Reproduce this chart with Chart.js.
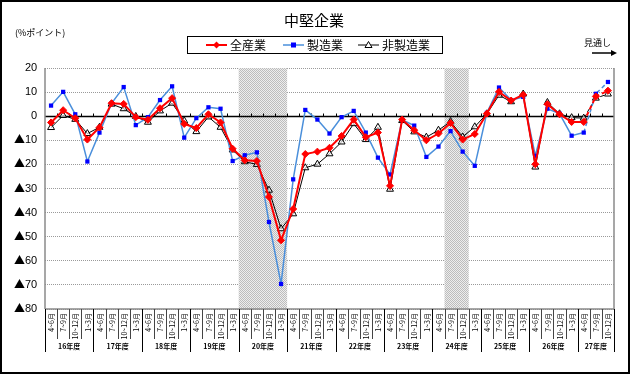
<!DOCTYPE html>
<html><head><meta charset="utf-8">
<script src="https://cdn.jsdelivr.net/npm/chart.js@4/dist/chart.umd.min.js"></script>
<style>
html,body{margin:0;padding:0;background:#fff}canvas{display:block}
@font-face { font-family: 'TickFont'; src: local('Noto Sans CJK JP Regular'), local('NotoSansCJKjp-Regular'), local('Noto Sans CJK JP'); unicode-range: U+25B2; }
@font-face { font-family: 'TickFont'; src: local('Liberation Sans'), local('LiberationSans'); unicode-range: U+0020-007E; }
</style>
</head><body>
<canvas id="c" width="630" height="374"></canvas>
<script>
const years = ['16年度','17年度','18年度','19年度','20年度','21年度','22年度','23年度','24年度','25年度','26年度','27年度'];
const quarters = ['4~6月','7~9月','10~12月','1~3月'];
const lastYearQuarters = 3;
const seriesNames = ['全産業','製造業','非製造業'];
const allIndustry = [-2.6,2.5,-0.8,-9.7,-4.7,5.4,5.1,-0.4,-1.5,3.3,7.5,-3.2,-4.9,0.8,-2.6,-13.5,-18.3,-18.6,-33.5,-51.5,-38.5,-15.7,-14.7,-13.1,-8.2,-1.4,-8.7,-6.8,-28.9,-1.4,-5.8,-10.0,-7.2,-2.8,-9.7,-7.4,1.1,10.1,6.5,8.9,-19.9,5.0,0.8,-2.4,-2.4,8.2,10.6];
const manufacturing = [4.4,10.1,0.8,-18.8,-6.8,5.3,12.1,-3.7,-0.4,6.7,12.4,-8.9,-0.8,3.7,3.1,-18.6,-16.2,-15.0,-43.9,-69.6,-26.2,2.6,-1.4,-7.2,-0.4,2.2,-6.8,-17.2,-24.2,-1.5,-3.9,-16.9,-12.6,-6.2,-14.7,-20.6,1.4,11.9,6.7,8.0,-16.4,3.1,1.1,-8.1,-6.8,9.3,14.2];
const nonManufacturing = [-4.7,0.3,-1.3,-7.2,-4.6,5.0,3.1,-0.1,-2.5,2.2,5.4,-1.9,-6.4,-0.3,-4.6,-14.0,-18.9,-20.0,-30.7,-46.7,-40.5,-21.4,-19.9,-15.6,-10.7,-3.1,-9.7,-4.6,-30.3,-1.8,-6.5,-8.7,-5.8,-2.2,-8.6,-4.4,1.0,8.7,6.0,9.2,-21.1,5.7,1.0,-0.6,-0.8,7.5,9.2];
const shadeRanges = [[16,19],[33,34]];
const forecastStart = 44;

const labels = [];
years.forEach((yr, j) => {
  const nq = j === years.length - 1 ? lastYearQuarters : 4;
  for (let q = 0; q < nq; q++) labels.push(quarters[q]);
});

const JP = "'Noto Sans CJK JP', 'Noto Sans', sans-serif";
const NUM = "TickFont, 'Liberation Sans', 'Noto Sans CJK JP', sans-serif";

const pc = document.createElement('canvas'); pc.width = 2; pc.height = 2;
const pctx = pc.getContext('2d');
pctx.fillStyle = '#ededed'; pctx.fillRect(0,0,2,2);
pctx.fillStyle = '#bcbcbc'; pctx.fillRect(0,0,1,1); pctx.fillRect(1,1,1,1);
const pattern = document.getElementById('c').getContext('2d').createPattern(pc, 'repeat');

function line(ctx, x1, y1, x2, y2) { ctx.beginPath(); ctx.moveTo(x1, y1); ctx.lineTo(x2, y2); ctx.stroke(); }

const deco = {
  id: 'deco',
  beforeDatasetsDraw(chart) {
    const { ctx, chartArea: a, scales: { x, y } } = chart;
    const n = labels.length;
    const w = (a.right - a.left) / n;
    ctx.save();
    ctx.fillStyle = pattern;
    shadeRanges.forEach(([s, e]) => {
      const x0 = x.getPixelForValue(s) - w / 2, x1 = x.getPixelForValue(e) + w / 2;
      ctx.fillRect(x0, a.top, x1 - x0, a.bottom - a.top);
    });
    const y0 = Math.round(y.getPixelForValue(0)) + 0.5;
    ctx.strokeStyle = '#000'; ctx.lineWidth = 1.5;
    line(ctx, a.left, y0, a.right, y0);
    ctx.lineWidth = 1;
    for (let k = 1; k < n; k++) {
      const xb = Math.round(x.getPixelForValue(k) - w / 2) + 0.5;
      line(ctx, xb, y0 - 3, xb, y0);
    }
    ctx.strokeStyle = '#8a8a8a'; ctx.lineWidth = 1.5;
    line(ctx, a.left, a.top, a.left, a.bottom);
    line(ctx, a.right, a.top, a.right, a.bottom);
    line(ctx, a.left, a.bottom, a.right, a.bottom);
    ctx.restore();
  },
  afterDraw(chart) {
    const { ctx, chartArea: a, scales: { x } } = chart;
    const n = labels.length;
    const w = (a.right - a.left) / n;
    ctx.save();
    ctx.fillStyle = '#000'; ctx.strokeStyle = '#000';
    ctx.font = `15px ${JP}`; ctx.textAlign = 'center'; ctx.textBaseline = 'middle';
    ctx.fillText('中堅企業', 314, 20);
    ctx.font = `9px ${JP}`; ctx.textAlign = 'left';
    ctx.fillText('(%ポイント)', 15, 33);
    ctx.fillText('見通し', 584, 43);
    ctx.lineWidth = 1.5; line(ctx, 592, 53, 612, 53);
    ctx.beginPath(); ctx.moveTo(617, 53); ctx.lineTo(611, 50); ctx.lineTo(611, 56); ctx.closePath(); ctx.fill();
    ctx.lineWidth = 1; ctx.strokeRect(187.5, 36.5, 255, 17);
    const ly = 45;
    const items = [
      { x: 206, color: '#ff0000', lw: 2, marker: 'diamond', text: seriesNames[0] },
      { x: 283, color: '#4a8fdb', lw: 1.5, marker: 'square', text: seriesNames[1] },
      { x: 358, color: '#000000', lw: 1, marker: 'triangle', text: seriesNames[2] }
    ];
    items.forEach(it => {
      ctx.strokeStyle = it.color; ctx.lineWidth = it.lw;
      line(ctx, it.x, ly, it.x + 21, ly);
      const cx = it.x + 10.5;
      if (it.marker === 'diamond') {
        ctx.fillStyle = '#ff0000';
        ctx.beginPath(); ctx.moveTo(cx, ly - 3.5); ctx.lineTo(cx + 3.5, ly); ctx.lineTo(cx, ly + 3.5); ctx.lineTo(cx - 3.5, ly); ctx.closePath(); ctx.fill();
      } else if (it.marker === 'square') {
        ctx.fillStyle = '#0000ff'; ctx.fillRect(cx - 2.5, ly - 2.5, 5, 5);
      } else {
        ctx.fillStyle = '#fff'; ctx.strokeStyle = '#000'; ctx.lineWidth = 1;
        ctx.beginPath(); ctx.moveTo(cx, ly - 3.5); ctx.lineTo(cx + 3.5, ly + 2.5); ctx.lineTo(cx - 3.5, ly + 2.5); ctx.closePath(); ctx.fill(); ctx.stroke();
      }
      ctx.fillStyle = '#000'; ctx.font = `12px ${JP}`; ctx.textAlign = 'left'; ctx.textBaseline = 'middle';
      ctx.fillText(it.text, it.x + 24, ly);
    });
    ctx.font = `7px ${JP}`; ctx.fillStyle = '#000';
    labels.forEach((lab, i) => {
      const cx = x.getPixelForValue(i);
      ctx.save(); ctx.translate(cx + 0.5, 313); ctx.rotate(-Math.PI / 2);
      ctx.textAlign = 'right'; ctx.textBaseline = 'middle';
      ctx.fillText(lab, 0, 0); ctx.restore();
    });
    ctx.lineWidth = 1;
    for (let k = 0; k <= n; k++) {
      const xb = Math.round(a.left + k * w) + 0.5;
      const isYear = (k % 4 === 0) || k === n;
      ctx.strokeStyle = isYear ? '#000' : '#444';
      line(ctx, xb, a.bottom, xb, isYear ? 352 : 339);
    }
    ctx.font = `bold 7px ${JP}`; ctx.textAlign = 'center'; ctx.textBaseline = 'middle';
    years.forEach((yr, j) => {
      const s = j * 4, e = Math.min(j * 4 + 4, n);
      ctx.fillText(yr, a.left + (s + e) / 2 * w, 346);
    });
    ctx.strokeStyle = '#000'; ctx.lineWidth = 2; ctx.strokeRect(1, 1, 628, 372);
    ctx.restore();
  }
};

const dashSeg = { borderDash: c => c.p0DataIndex >= forecastStart ? [4, 3] : undefined };

function build() {
  new Chart(document.getElementById('c'), {
    type: 'line',
    data: {
      labels,
      datasets: [
        { label: seriesNames[0], data: allIndustry, borderColor: '#ff0000', backgroundColor: '#ff0000', borderWidth: 2,
          pointStyle: 'rectRot', pointRadius: 3.5, pointBorderWidth: 1, pointBackgroundColor: '#ff0000', pointBorderColor: '#ff0000', segment: dashSeg, tension: 0 },
        { label: seriesNames[1], data: manufacturing, borderColor: '#4a8fdb', backgroundColor: '#0000ff', borderWidth: 1.5,
          pointStyle: 'rect', pointRadius: 3, pointBorderWidth: 0, pointBackgroundColor: '#0000ff', pointBorderColor: '#0000ff', segment: dashSeg, tension: 0 },
        { label: seriesNames[2], data: nonManufacturing, borderColor: '#000000', backgroundColor: '#ffffff', borderWidth: 1,
          pointStyle: 'triangle', pointRadius: 4, pointBorderWidth: 1, pointBackgroundColor: 'rgba(255,255,255,0.6)', pointBorderColor: '#000', segment: dashSeg, tension: 0 }
      ]
    },
    options: {
      responsive: false, animation: false, devicePixelRatio: 1,
      layout: { padding: { top: 68, right: 16, bottom: 0, left: 0 } },
      plugins: { legend: { display: false }, title: { display: false }, tooltip: { enabled: false } },
      scales: {
        x: { type: 'category', offset: true, grid: { display: false }, ticks: { display: false }, border: { display: false },
             afterFit(s) { s.height = 65; } },
        y: { min: -80, max: 20, afterFit(s) { s.width = 45; },
             ticks: { stepSize: 10, padding: 8, color: '#000', font: { family: NUM, size: 11 },
                      callback: v => v < 0 ? '▲' + (-v) : String(v) },
             grid: { color: '#9a9a9a', lineWidth: 1, drawTicks: false },
             border: { display: false, dash: [1, 1] } }
      }
    },
    plugins: [deco]
  });
}
let built = false;
function once() { if (!built) { built = true; build(); } }
if (document.fonts && document.fonts.load) {
  document.fonts.load("11px TickFont", "▲0123456789").then(once, once);
  setTimeout(once, 1500);
} else once();
</script>
</body></html>
